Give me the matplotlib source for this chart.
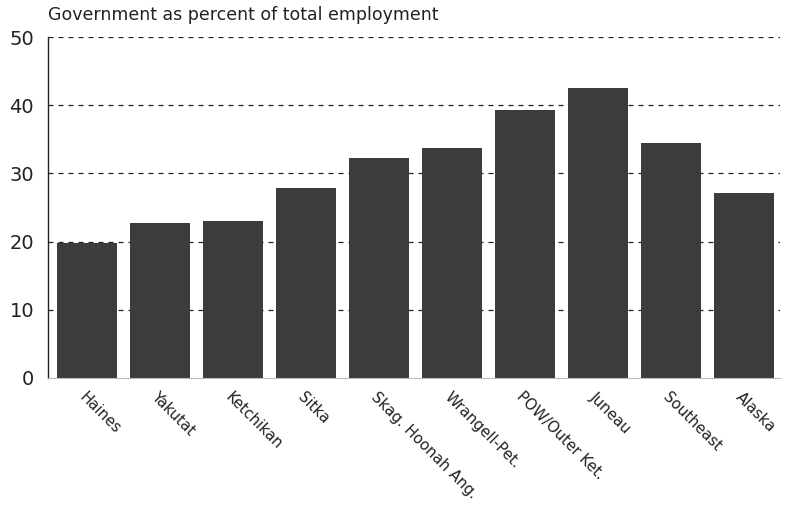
import matplotlib
matplotlib.use("Agg")
import matplotlib.pyplot as plt

categories = ["Haines", "Yakutat", "Ketchikan", "Sitka", "Skag. Hoonah Ang.",
              "Wrangell-Pet.", "POW/Outer Ket.", "Juneau", "Southeast", "Alaska"]
values = [19.8, 22.7, 23.0, 27.9, 32.2, 33.7, 39.3, 42.6, 34.5, 27.1]
yticks = [0, 10, 20, 30, 40, 50]
title = "Government as percent of total employment"

plt.rcParams['font.family'] = ['DejaVu Sans']

fig = plt.figure(figsize=(7.88, 5.08), dpi=100)
ax = fig.add_axes([0.061, 0.256, 0.929, 0.671])

x = list(range(len(categories)))
ax.bar(x, values, width=0.82, color="#3c3c3c", zorder=2)

ax.set_xlim(-0.53, 9.5)
ax.set_ylim(0, 50)
ax.set_yticks(yticks)
ax.set_yticklabels([str(t) for t in yticks], fontsize=14, color="#222222")
for t in yticks[1:]:
    ax.axhline(t, color="#222222", linestyle=(0, (4, 4)), linewidth=0.9, zorder=1)

ax.set_xticks(x)
ax.set_xticklabels(categories, rotation=-45, ha="left", va="top",
                   rotation_mode="anchor", fontsize=10.8, color="#222222")
ax.tick_params(axis="x", length=0, pad=8)
ax.tick_params(axis="y", direction="in", length=0, pad=10)

for s in ["top", "right"]:
    ax.spines[s].set_visible(False)
ax.spines["bottom"].set_color("#bbbbbb")
ax.spines["bottom"].set_linewidth(0.8)
ax.spines["left"].set_color("#222222")
ax.spines["left"].set_linewidth(1.0)

fig.text(0.061, 0.952, title, fontsize=12.5, ha="left", va="bottom", color="#222222")

fig.savefig("out.png", dpi=100)
